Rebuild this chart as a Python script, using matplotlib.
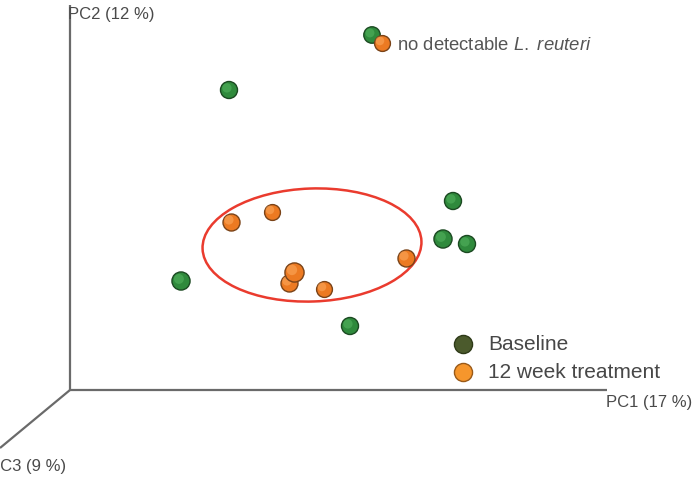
import matplotlib
matplotlib.use("Agg")
import matplotlib.pyplot as plt
from matplotlib.patches import Ellipse
import matplotlib.transforms as mtransforms

# ---- data (plot-space coordinates of the projected PCA scores) ----
baseline_x = [372, 229, 453, 443, 467, 181, 350]
baseline_y = [35, 90, 201, 239, 244, 281, 326]
treat_x = [382, 231, 272, 406, 289, 294, 324]
treat_y = [43, 222, 212, 258, 283, 272, 289]
treat_size = [130, 150, 130, 150, 150, 190, 130]
baseline_size = [140, 150, 150, 170, 150, 170, 150]

axis_labels = ["PC1 (17 %)", "PC2 (12 %)", "PC3 (9 %)"]
legend_labels = ["Baseline", "12 week treatment"]
annotation = r"no detectable $\mathit{L.}$ $\mathit{reuteri}$"

plt.rcParams['font.family'] = ['Liberation Sans', 'DejaVu Sans']
plt.rcParams['mathtext.fontset'] = 'custom'
plt.rcParams['mathtext.it'] = 'Liberation Sans:italic'
plt.rcParams['mathtext.rm'] = 'Liberation Sans'

fig = plt.figure(figsize=(6.97, 4.82), dpi=100)
ax = fig.add_axes([0, 0, 1, 1])
ax.set_xlim(0, 697)
ax.set_ylim(482, 0)
ax.axis('off')

axis_col = '#6a6a6a'
# 3D-style axes
ax.plot([70, 70], [5, 390], color=axis_col, lw=1.6, solid_capstyle='butt')
ax.plot([70, 607], [390, 390], color=axis_col, lw=1.6, solid_capstyle='butt')
ax.plot([70, 0], [390, 448], color=axis_col, lw=1.6, solid_capstyle='butt')

txt_col = '#4a4a4a'
ax.text(68, 15, axis_labels[1], fontsize=12, color=txt_col, ha='left', va='center')
ax.text(606, 403, axis_labels[0], fontsize=12, color=txt_col, ha='left', va='center')
ax.text(66, 467, axis_labels[2], fontsize=12, color=txt_col, ha='right', va='center')

# ellipse around treatment cluster
ax.add_patch(Ellipse((312, 245), 219, 113, angle=-2, fill=False,
                     edgecolor='#ea3b2e', lw=1.8, zorder=2))

green = '#2f8a3c'
green_edge = '#1c4a22'
green_hi = '#5fc06a'
orange = '#ec7a22'
orange_edge = '#7a4318'
orange_hi = '#ffb066'

hi_tr = mtransforms.offset_copy(ax.transData, fig=fig, x=-1.5, y=1.5, units='points')

ax.scatter(baseline_x, baseline_y, s=baseline_size, c=green, edgecolors=green_edge,
           linewidths=1.0, zorder=3)
ax.scatter(baseline_x, baseline_y, s=[v * 0.3 for v in baseline_size], c=green_hi,
           edgecolors='none', alpha=0.45, zorder=3.1, transform=hi_tr)
for x, y, s in zip(treat_x, treat_y, treat_size):
    ax.scatter([x], [y], s=s, c=orange, edgecolors=orange_edge, linewidths=1.0, zorder=4)
    ax.scatter([x], [y], s=s * 0.3, c=orange_hi, edgecolors='none', alpha=0.5,
               zorder=4, transform=hi_tr)

ax.text(397, 45, annotation, fontsize=13.3, color='#555555', ha='left', va='center')

# legend
leg_colors = ['#4b5a2c', '#f6962c']
leg_edges = ['#2e3a18', '#9a5a18']
leg_y = [344, 372]
for lab, c, ec, yy in zip(legend_labels, leg_colors, leg_edges, leg_y):
    ax.scatter([463], [yy], s=170, c=c, edgecolors=ec, linewidths=1.0, zorder=5)
    ax.text(488, yy, lab, fontsize=15, color='#474747', ha='left', va='center')

fig.savefig('out.png', dpi=100)
